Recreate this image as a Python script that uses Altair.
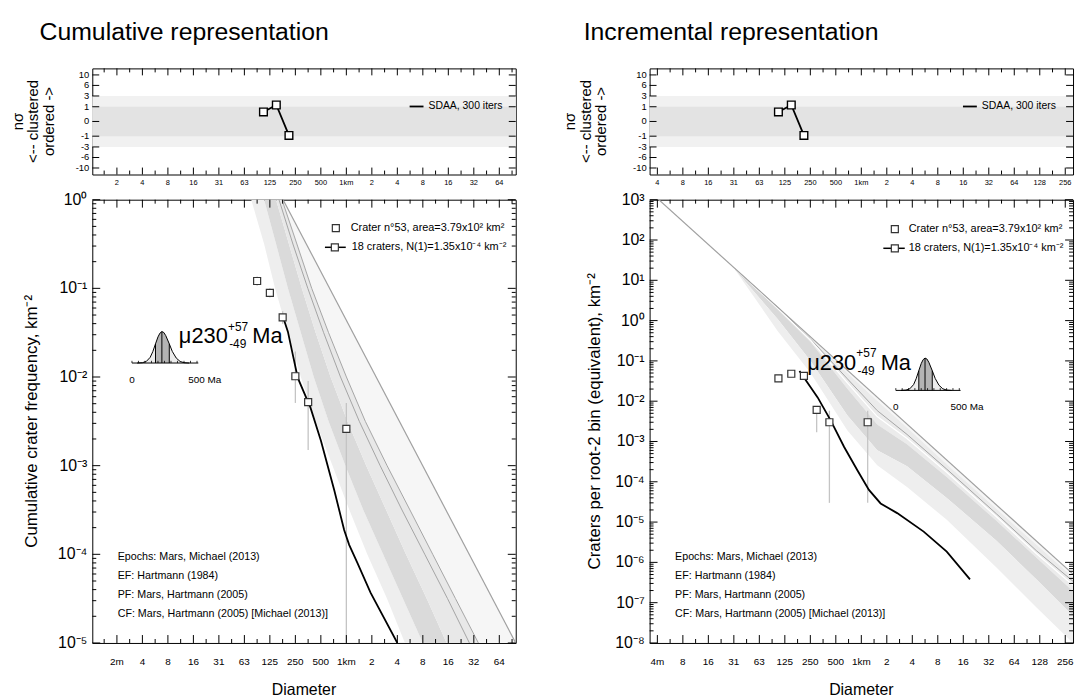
import altair as alt
import pandas as pd

FONT = "Liberation Sans, Arial, Helvetica, sans-serif"

W = 427
H_TOP = 107
H_MAIN = 447

# ---------------- data ----------------
# SDAA n-sigma panels
sdaa_diam_km = [0.105, 0.149, 0.21]
sdaa_nsigma = [0.42, 1.25, -0.9]
nsigma_ticks = [10, 6, 3, 1, 0, -1, -3, -6, -10]
nsigma_tick_labels = ["10", "6", "3", "1", "0", "-1", "-3", "-6", "-10"]
nsigma_band_lo = [-3, -1]
nsigma_band_hi = [3, 1]
nsigma_band_color = ["#f1f1f1", "#e3e3e3"]

# cumulative representation
cum_diam_km = [0.0884, 0.125, 0.177, 0.25, 0.354, 1.0]
cum_freq = [0.121, 0.089, 0.047, 0.0102, 0.0052, 0.0026]
cum_err_lo = [0.107, 0.079, 0.040, 0.0051, 0.0015, 0.000001]
cum_err_hi = [0.136, 0.100, 0.055, 0.0194, 0.0090, 0.0051]
cum_fit_diam_km = [0.180, 0.204, 0.267, 0.377, 0.501, 0.72, 0.942, 1.08, 1.35, 1.93, 4.0]
cum_fit_freq = [0.0467, 0.0325, 0.00977, 0.00451, 0.00191, 0.000528, 0.000188,
                0.000128, 0.00008, 0.0000369, 0.00001]
cum_ef_diam_km = [0.179, 100.0]
cum_ef_freq = [1.0, 0.00001]
# epoch shading: log10(D/km) of each boundary, read at log10(N) levels
cum_band_log10_n = [0, -0.5, -1, -1.5, -2, -2.5, -3, -3.5, -4, -4.5, -5]
cum_edge0_log10_d = [-1.123, -0.971, -0.842, -0.690, -0.537, -0.362, -0.163, 0.036, 0.247, 0.481, 0.692]
cum_edge1_log10_d = [-0.971, -0.830, -0.690, -0.537, -0.385, -0.210, -0.011, 0.200, 0.434, 0.669, 0.903]
cum_edge2_log10_d = [-0.830, -0.678, -0.526, -0.362, -0.186, 0.013, 0.235, 0.470, 0.704, 0.950, 1.184]
cum_pf_log10_d = [-0.795, -0.631, -0.455, -0.268, -0.069, 0.153, 0.399, 0.657, 0.926, 1.195, 1.453]
cum_cf_log10_d = [-0.760, -0.584, -0.409, -0.210, 0.001, 0.224, 0.481, 0.751, 1.020, 1.289, 1.559]
cum_efb_log10_d = [-0.748, -0.473, -0.198, 0.078, 0.353, 0.628, 0.903, 1.178, 1.454, 1.729, 2.0]

# incremental representation
inc_diam_km = [0.105, 0.149, 0.210, 0.297, 0.420, 1.189]
inc_freq = [0.037, 0.048, 0.0426, 0.0061, 0.0030, 0.0030]
inc_err_lo = [0.031, 0.041, 0.036, 0.0017, 0.00003, 0.00003]
inc_err_hi = [0.044, 0.056, 0.050, 0.0068, 0.0058, 0.0058]
inc_fit_diam_km = [0.186, 0.305, 0.436, 0.627, 0.898, 1.23, 1.69, 2.65, 5.45, 10.2, 19.2]
inc_fit_freq = [0.0564, 0.0124, 0.0033, 0.00073, 0.000194, 0.000063, 0.000029,
                0.0000167, 0.0000058, 0.00000185, 0.00000038]
inc_ef_diam_km = [0.00316, 316.2]
inc_ef_freq = [1611.0, 0.00000051]
# epoch shading: log10(N) of each boundary, read at log10(D/km) positions
inc_band_log10_d = [-1.491, -0.986, -0.599, -0.164, 0.188, 0.540, 1.009, 1.596, 2.066, 2.5]
inc_efb_log10_n = [1.288, 0.330, -0.406, -1.229, -1.899, -2.567, -3.458, -4.574, -5.466, -6.291]
inc_edge1_log10_n = [1.288, 0.330, -0.424, -1.298, -1.988, -2.653, -3.564, -4.672, -5.559, -6.372]
inc_pf_log10_n = [1.288, 0.328, -0.461, -1.446, -2.234, -2.825, -3.687, -4.796, -5.707, -6.470]
inc_cf_log10_n = [1.288, 0.303, -0.485, -1.544, -2.382, -2.924, -3.761, -4.869, -5.781, -6.569]
inc_edge4_log10_n = [1.288, 0.278, -0.534, -1.692, -2.579, -3.071, -3.884, -4.968, -5.879, -6.717]
inc_edge5_log10_n = [1.264, 0.032, -1.002, -2.357, -3.219, -3.613, -4.401, -5.461, -6.421, -7.333]
inc_edge6_log10_n = [1.264, -0.264, -1.298, -2.727, -3.589, -4.131, -4.943, -6.126, -7.111, -7.998]

# model age distribution (inset)
age_ma = [40, 80, 110, 140, 160, 181, 200, 215, 230, 245, 260, 287, 310, 340, 370, 400, 440]
age_density = [0.0, 0.01, 0.05, 0.18, 0.36, 0.61, 0.83, 0.95, 1.0, 0.97, 0.87, 0.61, 0.37, 0.16, 0.05, 0.01, 0.0]
age_marks_ma = [181, 230, 287]
age_marks_density = [0.61, 1.0, 0.61]
age_axis_ticks = [0, 50, 100, 150, 200, 250, 300, 350, 400, 450, 500]

# tick labels
cum_x_labels = ["2m", "4", "8", "16", "31", "63", "125", "250", "500", "1km", "2", "4", "8", "16", "32", "64"]
cum_top_x_labels = ["2", "4", "8", "16", "31", "63", "125", "250", "500", "1km", "2", "4", "8", "16", "32", "64"]
inc_x_labels = ["4m", "8", "16", "31", "63", "125", "250", "500", "1km", "2", "4", "8", "16", "32", "64", "128", "256"]
inc_top_x_labels = ["4", "8", "16", "31", "63", "125", "250", "500", "1km", "2", "4", "8", "16", "32", "64", "128", "256"]
cum_y_labels = ["10⁻⁵", "10⁻⁴", "10⁻³", "10⁻²", "10⁻¹", "10⁰"]
inc_y_labels = ["10⁻⁸", "10⁻⁷", "10⁻⁶", "10⁻⁵", "10⁻⁴", "10⁻³", "10⁻²", "10⁻¹", "10⁰", "10¹", "10²", "10³"]

notes_lines = ["Epochs: Mars, Michael (2013)", "EF: Hartmann (1984)",
               "PF: Mars, Hartmann (2005)", "CF: Mars, Hartmann (2005) [Michael (2013)]"]
legend_single = "Crater n°53, area=3.79x10² km²"
legend_fit = "18 craters, N(1)=1.35x10⁻⁴ km⁻²"
nsigma_title = ["nσ", "<-- clustered", "ordered ->"]

# tick positions (octaves in km, decades)
cum_x_major = [2.0 ** k for k in range(-9, 7)]
cum_x_minor = [2.0 ** (k + 0.5) for k in range(-10, 7)]
inc_x_major = [2.0 ** k for k in range(-8, 9)]
inc_x_minor = [2.0 ** (k + 0.5) for k in range(-8, 8)]
cum_y_major = [10.0 ** e for e in range(-5, 1)]
cum_y_minor = [m * 10.0 ** e for e in range(-5, 0) for m in range(2, 10)]
inc_y_major = [10.0 ** e for e in range(-8, 4)]
inc_y_minor = [m * 10.0 ** e for e in range(-8, 3) for m in range(2, 10)]

ONE = pd.DataFrame({"k": [0]})


def frame_ticks(xscale, yscale, xmaj, xmin, ymaj, ymin, w, h, xlen=(8, 4), ylen=(8, 4)):
    out = []
    for vals, ln in ((xmaj, xlen[0]), (xmin, xlen[1])):
        if vals:
            X = alt.X("v:Q", scale=xscale, axis=None)
            base = alt.Chart(pd.DataFrame({"v": vals})).mark_rule(color="black", strokeWidth=1)
            out.append(base.encode(x=X, y=alt.value(h), y2=alt.value(h - ln)))
            out.append(base.encode(x=X, y=alt.value(0), y2=alt.value(ln)))
    for vals, ln in ((ymaj, ylen[0]), (ymin, ylen[1])):
        if vals:
            Y = alt.Y("v:Q", scale=yscale, axis=None)
            base = alt.Chart(pd.DataFrame({"v": vals})).mark_rule(color="black", strokeWidth=1)
            out.append(base.encode(y=Y, x=alt.value(0), x2=alt.value(ln)))
            out.append(base.encode(y=Y, x=alt.value(w), x2=alt.value(w - ln)))
    return out


def tick_labels(xscale, yscale, xvals, xlabs, yvals, ylabs, xlab_y, xsize, ylab_x, ysize):
    xl = alt.Chart(pd.DataFrame({"v": xvals, "t": xlabs})).mark_text(
        font=FONT, fontSize=xsize, align="center", baseline="middle", color="black").encode(
        x=alt.X("v:Q", scale=xscale, axis=None), y=alt.value(xlab_y), text="t:N")
    yl = alt.Chart(pd.DataFrame({"v": yvals, "t": ylabs})).mark_text(
        font=FONT, fontSize=ysize, align="right", baseline="middle", color="black").encode(
        y=alt.Y("v:Q", scale=yscale, axis=None), x=alt.value(ylab_x), text="t:N")
    return [xl, yl]


def note(text, x, y, size, align="left", baseline="alphabetic", **kw):
    return alt.Chart(ONE).mark_text(text=text, fontSize=size, font=FONT, align=align,
                                    baseline=baseline, color="black", **kw).encode(
        x=alt.value(x), y=alt.value(y))


def spacer(x):
    return alt.Chart(ONE).mark_rule(opacity=0, strokeWidth=0.1).encode(
        x=alt.value(x), y=alt.value(10), y2=alt.value(20))


def sym_square(x, y):
    return alt.Chart(ONE).mark_point(shape="square", size=50, filled=True, fill="white",
                                     stroke="#333333", strokeWidth=1.2, opacity=1).encode(
        x=alt.value(x), y=alt.value(y))


def seg(x1, x2, y, width=1.5):
    return alt.Chart(ONE).mark_rule(color="black", strokeWidth=width).encode(
        x=alt.value(x1), x2=alt.value(x2), y=alt.value(y))


nsig_scale = alt.Scale(type="sqrt", domain=[-13, 13], nice=False, zero=False)


def top_panel(xscale, xmaj, xmin, labels, lx, title_x):
    band = alt.Chart(pd.DataFrame({"lo": nsigma_band_lo, "hi": nsigma_band_hi, "c": nsigma_band_color})).mark_rect(
        strokeWidth=0).encode(y=alt.Y("lo:Q", scale=nsig_scale, axis=None), y2="hi:Q",
                              x=alt.value(0), x2=alt.value(W), color=alt.Color("c:N", scale=None))
    df = pd.DataFrame({"d": sdaa_diam_km, "n": sdaa_nsigma})
    X = alt.X("d:Q", scale=xscale, axis=None)
    Y = alt.Y("n:Q", scale=nsig_scale, axis=None)
    line = alt.Chart(df).mark_line(color="black", strokeWidth=1.8).encode(x=X, y=Y)
    pts = alt.Chart(df).mark_point(shape="square", size=60, filled=True, fill="white", stroke="black",
                                   strokeWidth=1.4, opacity=1).encode(x=X, y=Y)
    leg = [seg(lx, lx + 14, 38.4, 1.8), note("SDAA, 300 iters", lx + 19, 38.4, 10.5, baseline="middle")]
    ticks = frame_ticks(xscale, nsig_scale, xmaj, xmin, nsigma_ticks, [], W, H_TOP, xlen=(7, 4), ylen=(7, 3))
    labs = tick_labels(xscale, nsig_scale, xmaj, labels, nsigma_ticks, nsigma_tick_labels,
                       H_TOP + 8.5, 7.5, -3, 9.5)
    title = alt.Chart(ONE).mark_text(text=nsigma_title, font=FONT, fontSize=15, lineHeight=15.5, angle=270,
                                     align="center", baseline="middle", color="black").encode(
        x=alt.value(title_x), y=alt.value(H_TOP / 2))
    return alt.layer(band, line, pts, *leg, *ticks, *labs, title).properties(width=W, height=H_TOP)


def inset_layers(x_range, y_range):
    xs = alt.Scale(domain=[0, 500], range=x_range, nice=False, zero=False)
    ys = alt.Scale(domain=[0, 1], range=y_range, nice=False, zero=False)
    df = pd.DataFrame({"age": age_ma, "dens": age_density})
    X = alt.X("age:Q", scale=xs, axis=None)
    Y = alt.Y("dens:Q", scale=ys, axis=None)
    full = alt.Chart(df).mark_area(color="#ececec", opacity=1).encode(x=X, y=Y)
    core = alt.Chart(df).transform_filter("datum.age >= 181 && datum.age <= 287").mark_area(
        color="#b4b4b4", opacity=1).encode(x=X, y=Y)
    outline = alt.Chart(df).mark_line(color="black", strokeWidth=1).encode(x=X, y=Y)
    marks = alt.Chart(pd.DataFrame({"age": age_marks_ma, "z": [0, 0, 0], "dens": age_marks_density})).mark_rule(
        color="black", strokeWidth=1).encode(x=X, y=alt.Y("z:Q", scale=ys, axis=None), y2="dens:Q")
    base = alt.Chart(pd.DataFrame({"a0": [0], "a1": [510], "z": [0]})).mark_rule(
        color="black", strokeWidth=1).encode(x=alt.X("a0:Q", scale=xs, axis=None), x2="a1:Q",
                                             y=alt.Y("z:Q", scale=ys, axis=None))
    tk = alt.Chart(pd.DataFrame({"age": age_axis_ticks, "z": [0] * len(age_axis_ticks),
                                 "t": [0.07] * len(age_axis_ticks)})).mark_rule(
        color="black", strokeWidth=0.8).encode(x=X, y=alt.Y("z:Q", scale=ys, axis=None), y2="t:Q")
    labs = alt.Chart(pd.DataFrame({"age": [0, 560], "z": [0, 0], "txt": ["0", "500 Ma"]})).mark_text(
        font=FONT, fontSize=10, dy=17, baseline="middle", align="center", color="black").encode(
        x=X, y=alt.Y("z:Q", scale=ys, axis=None), text="txt:N")
    return [full, core, outline, marks, base, tk, labs]


def age_label(x, y):
    # x, y : start position / baseline of "μ230"
    return [note("μ230", x, y, 22), note("+57", x + 49.5, y - 12.5, 12),
            note("-49", x + 50.7, y + 5.5, 12), note("Ma", x + 74, y, 22)]


def squares(df, X, Y):
    return alt.Chart(df).mark_point(shape="square", size=50, filled=True, fill="white", stroke="#333333",
                                    strokeWidth=1.2, opacity=1).encode(x=X, y=Y)


def main_guides(xscale, yscale, xmaj, xlabs, ymaj, ylabs, ytitle, ytitle_x, left_extent):
    out = tick_labels(xscale, yscale, xmaj, xlabs, ymaj, ylabs, H_MAIN + 19, 10, -5, 16)
    out.append(alt.Chart(ONE).mark_text(text=ytitle, font=FONT, fontSize=17, angle=270, align="center",
                                        baseline="middle", color="black").encode(
        x=alt.value(ytitle_x), y=alt.value(H_MAIN / 2)))
    out.append(note("Diameter", W / 2, H_MAIN + 47, 16, align="center", baseline="middle"))
    out.append(spacer(left_extent))
    return out


# ---------------- cumulative panel ----------------
cx = alt.Scale(type="log", domain=[0.001, 100], nice=False)
cy = alt.Scale(type="log", domain=[0.00001, 1], nice=False)


def hband(lo, hi, color):
    df = pd.DataFrame({"n": [10 ** v for v in cum_band_log10_n],
                       "lo": [10 ** v for v in lo], "hi": [10 ** v for v in hi]})
    return alt.Chart(df).mark_area(orient="horizontal", color=color, opacity=1, clip=True).encode(
        y=alt.Y("n:Q", scale=cy, axis=None), x=alt.X("lo:Q", scale=cx, axis=None, stack=False), x2="hi:Q")


def hcurve(vals, color, width=1.0):
    df = pd.DataFrame({"n": [10 ** v for v in cum_band_log10_n], "d": [10 ** v for v in vals]})
    return alt.Chart(df).mark_line(color=color, strokeWidth=width, clip=True).encode(
        x=alt.X("d:Q", scale=cx, axis=None), y=alt.Y("n:Q", scale=cy, axis=None))


CX = alt.X("d:Q", scale=cx, axis=None)
CY = alt.Y("n:Q", scale=cy, axis=None)
cum_pts = pd.DataFrame({"d": cum_diam_km, "n": cum_freq, "lo": cum_err_lo, "hi": cum_err_hi})
cum_core = [
    hband(cum_edge0_log10_d, cum_edge1_log10_d, "#eeeeee"),
    hband(cum_edge1_log10_d, cum_edge2_log10_d, "#dadada"),
    hband(cum_edge2_log10_d, cum_cf_log10_d, "#e8e8e8"),
    hband(cum_cf_log10_d, cum_efb_log10_d, "#f6f6f6"),
    hcurve(cum_pf_log10_d, "#a4a4a4"),
    hcurve(cum_cf_log10_d, "#a4a4a4"),
    alt.Chart(pd.DataFrame({"d": cum_ef_diam_km, "n": cum_ef_freq})).mark_line(
        color="#a0a0a0", strokeWidth=1.2, clip=True).encode(x=CX, y=CY),
    alt.Chart(cum_pts).mark_rule(color="#c4c4c4", strokeWidth=1.3, clip=True).encode(
        x=CX, y=alt.Y("lo:Q", scale=cy, axis=None), y2="hi:Q"),
    alt.Chart(pd.DataFrame({"d": cum_fit_diam_km, "n": cum_fit_freq})).mark_line(
        color="black", strokeWidth=1.8, clip=True).encode(x=CX, y=CY),
    squares(cum_pts, CX, CY),
    sym_square(245.6, 28.7), note(legend_single, 260.6, 28.7, 11, baseline="middle"),
    seg(234.6, 255.6, 48), sym_square(244.6, 48), note(legend_fit, 261.6, 48, 11, baseline="middle"),
    alt.Chart(ONE).mark_text(text=notes_lines, font=FONT, fontSize=10.8, lineHeight=19, align="left",
                             baseline="alphabetic", color="black").encode(x=alt.value(25.6), y=alt.value(363.5)),
    *age_label(87.3, 144.5),
    *frame_ticks(cx, cy, cum_x_major, cum_x_minor, cum_y_major, cum_y_minor, W, H_MAIN),
    *main_guides(cx, cy, cum_x_major, cum_x_labels, cum_y_major, cum_y_labels,
                 "Cumulative crater frequency, km⁻²", -61, -82.5),
]
cum_main = alt.layer(alt.layer(*cum_core), alt.layer(*inset_layers([40, 105.6], [164.7, 133]))).resolve_scale(
    x="independent", y="independent").properties(width=W, height=H_MAIN)

# ---------------- incremental panel ----------------
ix = alt.Scale(type="log", domain=[10 ** -2.5, 10 ** 2.5], nice=False)
iy = alt.Scale(type="log", domain=[0.00000001, 1000], nice=False)


def vband(lo, hi, color):
    df = pd.DataFrame({"d": [10 ** v for v in inc_band_log10_d],
                       "lo": [10 ** v for v in lo], "hi": [10 ** v for v in hi]})
    return alt.Chart(df).mark_area(orient="vertical", color=color, opacity=1, clip=True).encode(
        x=alt.X("d:Q", scale=ix, axis=None), y=alt.Y("lo:Q", scale=iy, axis=None, stack=False), y2="hi:Q")


def vcurve(vals, color, width=1.0):
    df = pd.DataFrame({"d": [10 ** v for v in inc_band_log10_d], "n": [10 ** v for v in vals]})
    return alt.Chart(df).mark_line(color=color, strokeWidth=width, clip=True).encode(
        x=alt.X("d:Q", scale=ix, axis=None), y=alt.Y("n:Q", scale=iy, axis=None))


IX = alt.X("d:Q", scale=ix, axis=None)
IY = alt.Y("n:Q", scale=iy, axis=None)
inc_pts = pd.DataFrame({"d": inc_diam_km, "n": inc_freq, "lo": inc_err_lo, "hi": inc_err_hi})
inc_core = [
    vband(inc_edge1_log10_n, inc_efb_log10_n, "#f6f6f6"),
    vband(inc_edge4_log10_n, inc_edge1_log10_n, "#ebebeb"),
    vband(inc_edge5_log10_n, inc_edge4_log10_n, "#d9d9d9"),
    vband(inc_edge6_log10_n, inc_edge5_log10_n, "#eeeeee"),
    vcurve(inc_pf_log10_n, "#a4a4a4"),
    vcurve(inc_cf_log10_n, "white", 1.3),
    alt.Chart(pd.DataFrame({"d": inc_ef_diam_km, "n": inc_ef_freq})).mark_line(
        color="#a0a0a0", strokeWidth=1.2, clip=True).encode(x=IX, y=IY),
    alt.Chart(inc_pts).mark_rule(color="#c4c4c4", strokeWidth=1.3, clip=True).encode(
        x=IX, y=alt.Y("lo:Q", scale=iy, axis=None), y2="hi:Q"),
    alt.Chart(pd.DataFrame({"d": inc_fit_diam_km, "n": inc_fit_freq})).mark_line(
        color="black", strokeWidth=1.8, clip=True).encode(x=IX, y=IY),
    squares(inc_pts, IX, IY),
    sym_square(247.3, 29.7), note(legend_single, 261.3, 29.7, 11, baseline="middle"),
    seg(235.7, 257.3, 49), sym_square(247.3, 49), note(legend_fit, 261.3, 49, 11, baseline="middle"),
    alt.Chart(ONE).mark_text(text=notes_lines, font=FONT, fontSize=10.8, lineHeight=19, align="left",
                             baseline="alphabetic", color="black").encode(x=alt.value(25.7), y=alt.value(363.5)),
    *age_label(159, 171.3),
    *frame_ticks(ix, iy, inc_x_major, inc_x_minor, inc_y_major, inc_y_minor, W, H_MAIN),
    *main_guides(ix, iy, inc_x_major, inc_x_labels, inc_y_major, inc_y_labels,
                 "Craters per root-2 bin (equivalent), km⁻²", -55, -87.5),
]
inc_main = alt.layer(alt.layer(*inc_core), alt.layer(*inset_layers([248.3, 312.3], [192.3, 159.7]))).resolve_scale(
    x="independent", y="independent").properties(width=W, height=H_MAIN)

# ---------------- layout ----------------
top_left = top_panel(cx, cum_x_major, cum_x_minor, cum_top_x_labels, 320, -75)
top_right = top_panel(ix, inc_x_major, inc_x_minor, inc_top_x_labels, 316, -80)


def col_title(text, dx):
    return alt.TitleParams(text=text, anchor="start", frame="bounds", dx=dx, offset=3, fontSize=25,
                           font=FONT, fontWeight="normal", color="black", baseline="alphabetic")


left_col = alt.vconcat(top_left, cum_main, spacing=3.4).properties(
    title=col_title("Cumulative representation", 29.8))
right_col = alt.vconcat(top_right, inc_main, spacing=3.4).properties(
    title=col_title("Incremental representation", 21.5))

chart = alt.hconcat(left_col, right_col, spacing=46).properties(
    padding={"left": 2, "top": 9, "right": 2, "bottom": 0}, background="white"
).configure_view(stroke="black", strokeWidth=1)

chart.save("out.html", embed_options={"renderer": "svg", "actions": False})
